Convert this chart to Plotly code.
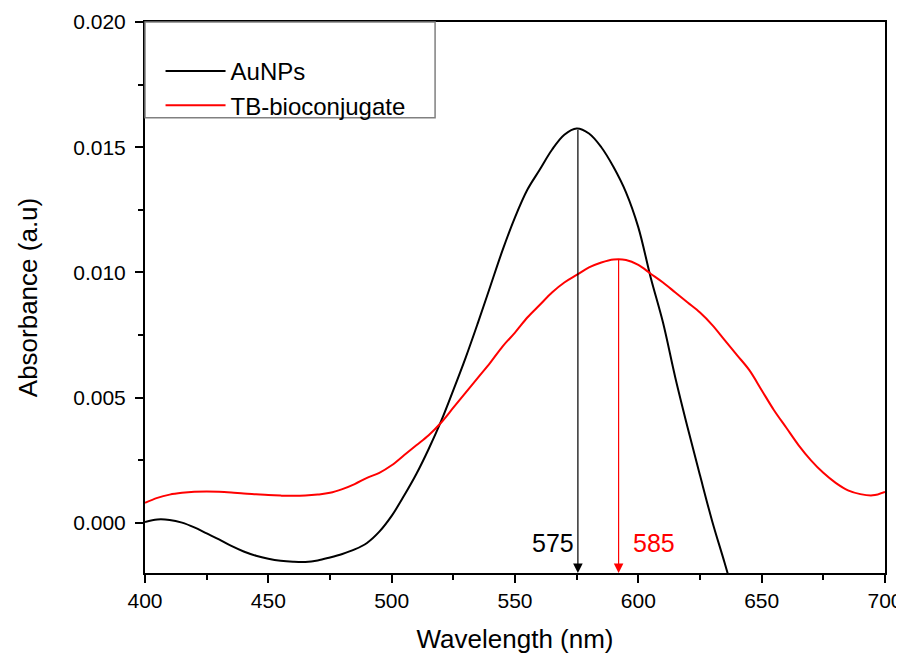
import plotly.graph_objects as go

# ---- data ----
wl_aunp = [400, 405, 410, 415, 420, 425, 430, 435, 440, 445, 450, 455, 460, 465, 470,
           475, 480, 485, 490, 495, 500, 505, 510, 515, 520, 525, 530, 535, 540, 545,
           550, 555, 560, 565, 570, 575, 580, 585, 590, 595, 600, 605, 610, 615, 620,
           625, 630, 635, 640]
abs_aunp = [0.00004, 0.00014, 0.00012, 0.00001, -0.00018, -0.00042, -0.00066, -0.00092,
            -0.00114, -0.00131, -0.00143, -0.00151, -0.00155, -0.00156, -0.00150,
            -0.00138, -0.00124, -0.00106, -0.00080, -0.00035, 0.00028, 0.00108, 0.00195,
            0.00295, 0.00405, 0.00530, 0.00660, 0.00800, 0.00945, 0.01090, 0.01220,
            0.01330, 0.01410, 0.01490, 0.01550, 0.01575, 0.01555, 0.01500, 0.01420,
            0.01320, 0.01180, 0.00980, 0.00800, 0.00580, 0.00380, 0.00190, 0.00005,
            -0.00160, -0.00330]

wl_tb = [400, 405, 410, 415, 420, 425, 430, 435, 440, 445, 450, 455, 460, 465, 470,
         475, 480, 485, 490, 495, 500, 505, 510, 515, 520, 525, 530, 535, 540, 545,
         550, 555, 560, 565, 570, 575, 580, 585, 590, 595, 600, 605, 610, 615, 620,
         625, 630, 635, 640, 645, 650, 655, 660, 665, 670, 675, 680, 685, 690, 695, 700]
abs_tb = [0.00080, 0.00100, 0.00113, 0.00120, 0.00124, 0.00125, 0.00124, 0.00121,
          0.00117, 0.00114, 0.00111, 0.00109, 0.00108, 0.00109, 0.00113, 0.00120,
          0.00135, 0.00155, 0.00180, 0.00200, 0.00230, 0.00270, 0.00310, 0.00350,
          0.00400, 0.00460, 0.00520, 0.00580, 0.00640, 0.00705, 0.00760, 0.00820,
          0.00870, 0.00920, 0.00960, 0.00990, 0.01020, 0.01040, 0.01052, 0.01050,
          0.01030, 0.00995, 0.00960, 0.00920, 0.00880, 0.00840, 0.00790, 0.00730,
          0.00670, 0.00610, 0.00530, 0.00450, 0.00380, 0.00310, 0.00250, 0.00200,
          0.00160, 0.00130, 0.00115, 0.00110, 0.00124]

series_names = ["AuNPs", "TB-bioconjugate"]
series_colors = ["black", "#ff0000"]

# peak markers: arrow position (nm), arrow top (absorbance), label
peak_wl = [575.5, 592.0]
peak_abs = [0.01575, 0.01056]
peak_labels = ["575", "585"]

x_range = [400, 700]
y_range = [-0.002, 0.020]

FONT = "Liberation Sans, Arial, sans-serif"

fig = go.Figure()
fig.add_trace(go.Scatter(x=wl_aunp, y=abs_aunp, mode="lines", name=series_names[0],
                         line=dict(color=series_colors[0], width=2, shape="spline", smoothing=1)))
fig.add_trace(go.Scatter(x=wl_tb, y=abs_tb, mode="lines", name=series_names[1],
                         line=dict(color=series_colors[1], width=2, shape="spline", smoothing=1)))

# arrows from peaks to the x axis, with labels
for i in range(2):
    fig.add_annotation(x=peak_wl[i], y=y_range[0], ax=peak_wl[i], ay=peak_abs[i],
                       xref="x", yref="y", axref="x", ayref="y", text="",
                       showarrow=True, arrowhead=2, arrowsize=1.6, arrowwidth=1.2,
                       arrowcolor=series_colors[i], standoff=0)
fig.add_annotation(x=peak_wl[0], y=y_range[0], xref="x", yref="y", text=peak_labels[0],
                   showarrow=False, xanchor="right", yanchor="bottom", xshift=-2, yshift=14,
                   font=dict(family=FONT, size=25, color=series_colors[0]))
fig.add_annotation(x=peak_wl[1], y=y_range[0], xref="x", yref="y", text=peak_labels[1],
                   showarrow=False, xanchor="left", yanchor="bottom", xshift=12, yshift=14,
                   font=dict(family=FONT, size=25, color=series_colors[1]))

# legend frame
fig.add_shape(type="rect", xref="x domain", yref="y domain", x0=0, x1=0.392, y0=0.826, y1=1,
              line=dict(color="#808080", width=1.5), fillcolor="rgba(0,0,0,0)", layer="above")

axis_common = dict(showline=True, linecolor="black", linewidth=2, mirror=True,
                   ticks="outside", ticklen=8, tickwidth=1.5, tickcolor="black",
                   showgrid=False, zeroline=False, automargin=False,
                   tickfont=dict(family=FONT, size=21, color="black"))

fig.update_xaxes(range=x_range, dtick=50, tick0=400,
                 minor=dict(ticks="outside", ticklen=5, dtick=25, tickcolor="black", tickwidth=1.5),
                 title=dict(text="Wavelength (nm)", font=dict(family=FONT, size=26, color="black"),
                            standoff=19),
                 **axis_common)
fig.update_yaxes(range=y_range, dtick=0.005, tick0=0, tickformat=".3f", ticklabelstandoff=5,
                 minor=dict(ticks="outside", ticklen=5, dtick=0.0025, tickcolor="black", tickwidth=1.5),
                 title=dict(text="Absorbance (a.u)", font=dict(family=FONT, size=26, color="black"),
                            standoff=28),
                 **axis_common)

# the page adds an 8px body margin, so the figure is sized to fill the rest of the window
fig.update_layout(
    width=896, height=650,
    margin=dict(l=137, r=19, t=14, b=85),
    paper_bgcolor="white", plot_bgcolor="white",
    font=dict(family=FONT, color="black"),
    legend=dict(x=0.021, y=0.951, xanchor="left", yanchor="top", bgcolor="rgba(0,0,0,0)",
                borderwidth=0, font=dict(family=FONT, size=24, color="black"),
                itemwidth=60, tracegroupgap=0),
    showlegend=True,
)

fig.write_html("out.html")
